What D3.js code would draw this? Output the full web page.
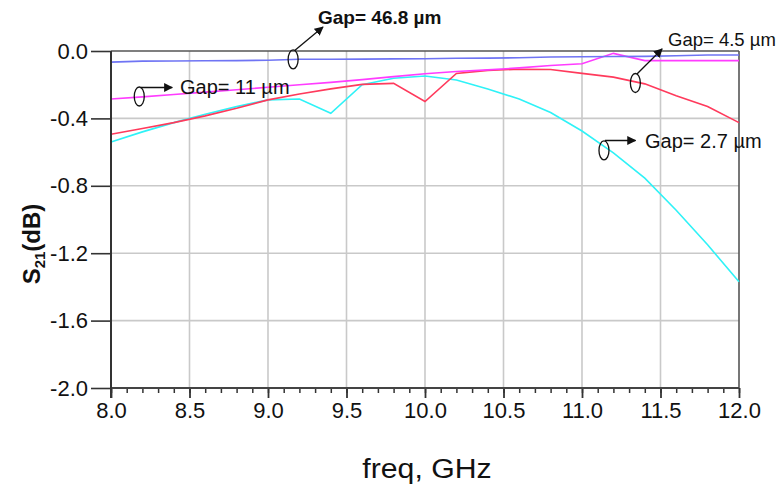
<!DOCTYPE html>
<html>
<head>
<meta charset="utf-8">
<script src="https://cdn.jsdelivr.net/npm/d3@7"></script>
<style>
  html, body { margin: 0; padding: 0; background: #ffffff; }
  svg { display: block; }
  text { font-family: "Liberation Sans", Arial, sans-serif; fill: #111; }
</style>
</head>
<body>
<svg id="chart" width="781" height="493"></svg>
<script>
// ---- data ----
const freq = [8.0, 8.2, 8.4, 8.6, 8.8, 9.0, 9.2, 9.4, 9.6, 9.8, 10.0, 10.2, 10.4, 10.6, 10.8, 11.0, 11.2, 11.4, 11.6, 11.8, 12.0];
const gap468 = [-0.066, -0.060, -0.059, -0.058, -0.057, -0.055, -0.049, -0.049, -0.048, -0.047, -0.046, -0.043, -0.042, -0.040, -0.036, -0.034, -0.033, -0.032, -0.028, -0.024, -0.024];
const gap11  = [-0.285, -0.272, -0.258, -0.244, -0.230, -0.215, -0.200, -0.186, -0.170, -0.152, -0.135, -0.122, -0.112, -0.100, -0.086, -0.076, -0.014, -0.057, -0.057, -0.057, -0.057];
const gap45  = [-0.494, -0.460, -0.425, -0.385, -0.340, -0.290, -0.255, -0.225, -0.198, -0.192, -0.300, -0.133, -0.115, -0.108, -0.110, -0.133, -0.155, -0.195, -0.265, -0.330, -0.425];
const gap27  = [-0.540, -0.480, -0.425, -0.375, -0.330, -0.290, -0.285, -0.370, -0.200, -0.162, -0.148, -0.172, -0.225, -0.285, -0.365, -0.475, -0.605, -0.755, -0.945, -1.150, -1.370];
const xTicks = [8.0, 8.5, 9.0, 9.5, 10.0, 10.5, 11.0, 11.5, 12.0];
const yTicks = [0.0, -0.4, -0.8, -1.2, -1.6, -2.0];
const seriesNames = ["Gap= 2.7 µm", "Gap= 4.5 µm", "Gap= 11 µm", "Gap= 46.8 µm"];
const seriesColors = ["#2ff2f7", "#ff3a5c", "#ff3cff", "#6f74f4"];

// ---- layout ----
const svg = d3.select("#chart");
const L = 111, R = 739, T = 51, B = 388;
const x = d3.scaleLinear().domain([8, 12]).range([L, R]);
const y = d3.scaleLinear().domain([-2.0, 0.0]).range([B, T]);
const fmt = v => v.toFixed(1).replace("\u2212", "-");

// grid
const grid = svg.append("g");
grid.selectAll("line.v").data(xTicks.slice(1, -1)).enter().append("line")
  .attr("x1", d => x(d)).attr("x2", d => x(d)).attr("y1", T).attr("y2", B)
  .attr("stroke", "#c9c9c9").attr("stroke-width", 1.6);
grid.selectAll("line.h").data(yTicks.slice(1, -1)).enter().append("line")
  .attr("x1", L).attr("x2", R).attr("y1", d => y(d)).attr("y2", d => y(d))
  .attr("stroke", "#c9c9c9").attr("stroke-width", 1.6);

// border top/right
svg.append("line").attr("x1", L).attr("x2", R).attr("y1", T).attr("y2", T).attr("stroke", "#555").attr("stroke-width", 1.6);
svg.append("line").attr("x1", R).attr("x2", R).attr("y1", T).attr("y2", B).attr("stroke", "#555").attr("stroke-width", 1.6);

// series lines
const series = [gap27, gap45, gap11, gap468];
const line = d3.line().x((d, i) => x(freq[i])).y(d => y(d));
series.forEach((vals, k) => {
  svg.append("path").datum(vals).attr("d", line)
    .attr("fill", "none").attr("stroke", seriesColors[k]).attr("stroke-width", 1.6);
});

// x axis
const xMinor = d3.range(80, 121).map(v => v / 10);
const xAxis = d3.axisBottom(x).tickValues(xMinor).tickSize(5).tickFormat("");
const gx = svg.append("g").attr("transform", `translate(0,${B})`).call(xAxis);
gx.select(".domain").remove();
gx.selectAll("line").attr("stroke", "#333").attr("stroke-width", 1.5);
const xMajor = d3.axisBottom(x).tickValues(xTicks).tickSize(10).tickFormat(fmt).tickPadding(4);
const gx2 = svg.append("g").attr("transform", `translate(0,${B})`).call(xMajor);
gx2.select(".domain").remove();
gx2.selectAll("line").attr("stroke", "#333").attr("stroke-width", 1.8);
gx2.selectAll("text").attr("font-size", 22).attr("fill", "#111")
  .attr("font-family", "Liberation Sans, Arial, sans-serif");
svg.append("line").attr("x1", L).attr("x2", R).attr("y1", B).attr("y2", B).attr("stroke", "#444").attr("stroke-width", 1.8);

// y axis
const yAxis = d3.axisLeft(y).tickValues(yTicks).tickSize(20).tickPadding(3).tickFormat(fmt);
const gy = svg.append("g").attr("transform", `translate(${L},0)`).call(yAxis);
gy.select(".domain").remove();
gy.selectAll("line").attr("stroke", "#333").attr("stroke-width", 1.6);
gy.selectAll("text").attr("font-size", 22).attr("fill", "#111")
  .attr("font-family", "Liberation Sans, Arial, sans-serif");
svg.append("line").attr("x1", L).attr("x2", L).attr("y1", T).attr("y2", B + 10).attr("stroke", "#333").attr("stroke-width", 2);

// axis titles
svg.append("text").attr("transform", "translate(427,478) scale(1.12,1)").attr("text-anchor", "middle")
  .attr("font-size", 27).text("freq, GHz");
const yt = svg.append("text").attr("transform", "translate(40,244) rotate(-90)")
  .attr("text-anchor", "middle").attr("font-size", 24).attr("font-weight", "bold");
yt.append("tspan").text("S");
yt.append("tspan").attr("font-size", 15).attr("dy", 5).text("21");
yt.append("tspan").attr("dy", -5).text("(dB)");

// annotations: ellipse + arrow + label
const defs = svg.append("defs");
defs.append("marker").attr("id", "arr").attr("viewBox", "0 0 10 10").attr("refX", 9).attr("refY", 5)
  .attr("markerWidth", 9).attr("markerHeight", 9).attr("markerUnits", "userSpaceOnUse").attr("orient", "auto")
  .append("path").attr("d", "M0,0 L10,5 L0,10 Z").attr("fill", "#111");

function annotate(ef, ev, points, label, lx, ly, size, bold) {
  const cx = x(ef), cy = y(ev);
  svg.append("ellipse").attr("cx", cx).attr("cy", cy).attr("rx", 5).attr("ry", 9.5)
    .attr("fill", "none").attr("stroke", "#111").attr("stroke-width", 1.3);
  svg.append("path").attr("d", d3.line()(points.map(p => [p[0], p[1]])))
    .attr("fill", "none").attr("stroke", "#111").attr("stroke-width", 1.3).attr("marker-end", "url(#arr)");
  svg.append("text").attr("x", lx).attr("y", ly).attr("font-size", size)
    .attr("font-weight", bold ? "bold" : "normal").text(label);
}
annotate(9.16, -0.05, [[x(9.17), y(-0.045) - 8], [x(9.35), 27]], seriesNames[3], 318, 24, 19, true);
annotate(8.18, -0.27, [[x(8.19), y(-0.27) - 9], [x(8.19), 87.5], [x(8.39), 87.5]], seriesNames[2], 180, 94, 20, false);
annotate(11.34, -0.19, [[x(11.35), y(-0.19) - 9], [x(11.51), 49]], seriesNames[1], 668, 46, 18.5, false);
annotate(11.14, -0.59, [[x(11.15), y(-0.59) - 9], [x(11.15), 140.5], [x(11.34), 140.5]], seriesNames[0], 645, 148, 20, false);
</script>
</body>
</html>
